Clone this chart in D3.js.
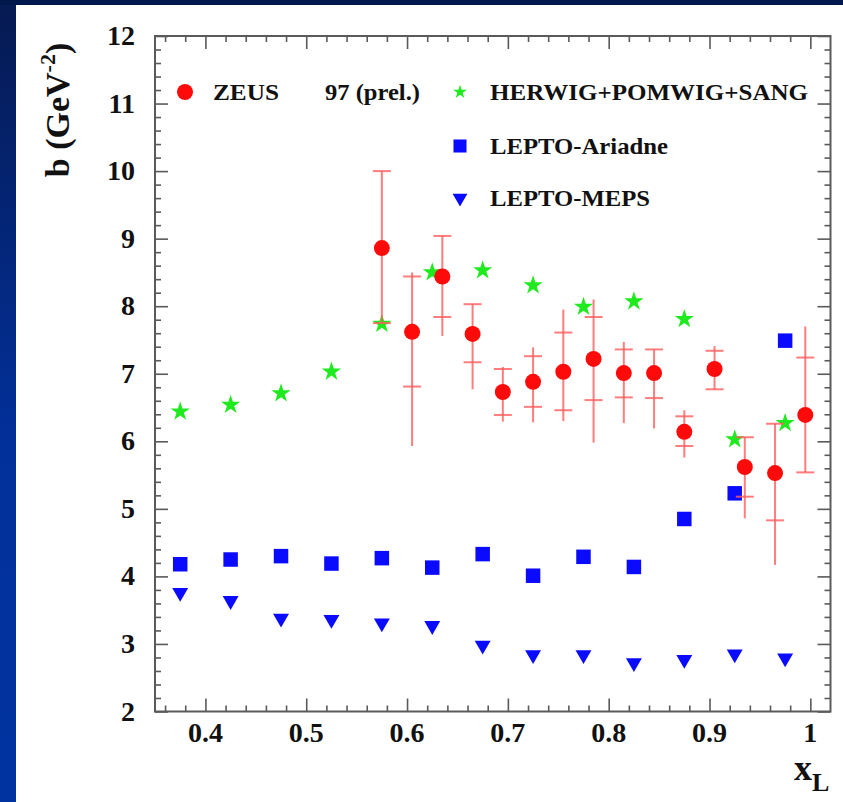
<!DOCTYPE html>
<html>
<head>
<meta charset="utf-8">
<script src="https://cdn.jsdelivr.net/npm/d3@7"></script>
<style>
  html, body { margin: 0; padding: 0; background: #fff; }
  svg { display: block; }
  text { font-family: "Liberation Serif", "DejaVu Serif", serif; font-weight: bold; fill: #111; }
</style>
</head>
<body>
<svg id="chart" width="843" height="802"></svg>
<script>
// x_L bins of the Monte Carlo predictions
const mcX = [0.375, 0.425, 0.475, 0.525, 0.575, 0.625, 0.675, 0.725, 0.775, 0.825, 0.875, 0.925, 0.975];
const herwigB = [6.44, 6.54, 6.71, 7.03, 7.74, 8.50, 8.53, 8.31, 7.99, 8.07, 7.81, 6.03, 6.27];
const ariadneB = [4.18, 4.25, 4.30, 4.19, 4.27, 4.13, 4.33, 4.01, 4.29, 4.14, 4.85, 5.23, 7.49];
const mepsB = [3.76, 3.64, 3.38, 3.36, 3.31, 3.27, 2.98, 2.84, 2.84, 2.72, 2.77, 2.85, 2.79];

// ZEUS measurement: value, statistical band (caps) and full error (line)
const zeusX = [0.575, 0.605, 0.635, 0.665, 0.695, 0.725, 0.755, 0.785, 0.815, 0.845, 0.875, 0.905, 0.935, 0.965, 0.995];
const zeusB = [8.86, 7.62, 8.44, 7.59, 6.73, 6.88, 7.03, 7.22, 7.01, 7.01, 6.14, 7.07, 5.62, 5.53, 6.39];
const zeusStatLo = [7.75, 6.81, 7.84, 7.17, 6.39, 6.51, 6.46, 6.61, 6.65, 6.64, 5.93, 6.77, 5.18, 4.83, 5.54];
const zeusStatHi = [10.00, 8.44, 9.04, 8.03, 7.07, 7.26, 7.61, 7.84, 7.36, 7.36, 6.37, 7.34, 6.06, 6.26, 7.24];
const zeusTotLo = [7.75, 5.93, 7.56, 6.77, 6.29, 6.28, 6.30, 5.98, 6.27, 6.19, 5.76, 6.77, 4.86, 4.17, 5.54];
const zeusTotHi = [10.00, 8.50, 9.04, 8.03, 7.10, 7.39, 7.95, 8.10, 7.47, 7.36, 6.46, 7.41, 6.06, 6.26, 7.70];

const xTickVals = [0.4, 0.5, 0.6, 0.7, 0.8, 0.9, 1.0];
const xTickLabels = ["0.4", "0.5", "0.6", "0.7", "0.8", "0.9", "1"];
const yTickVals = [2, 3, 4, 5, 6, 7, 8, 9, 10, 11, 12];
const yTickLabels = ["2", "3", "4", "5", "6", "7", "8", "9", "10", "11", "12"];

const legendLabels = ["ZEUS", "97 (prel.)", "HERWIG+POMWIG+SANG", "LEPTO-Ariadne", "LEPTO-MEPS"];

const svg = d3.select("#chart");
const W = 843, H = 802;

// slide background: navy frame fading to royal blue, white page
const defs = svg.append("defs");
const grad = defs.append("linearGradient").attr("id", "frame").attr("x1", 0).attr("y1", 0).attr("x2", 0).attr("y2", 1);
grad.append("stop").attr("offset", "0%").attr("stop-color", "#061a52");
grad.append("stop").attr("offset", "55%").attr("stop-color", "#02309a");
grad.append("stop").attr("offset", "100%").attr("stop-color", "#0033a0");
svg.append("rect").attr("width", W).attr("height", H).attr("fill", "url(#frame)");
svg.append("rect").attr("x", 0).attr("y", 0).attr("width", W).attr("height", 5).attr("fill", "#00184b");
svg.append("rect").attr("x", 16).attr("y", 5).attr("width", W - 16).attr("height", H - 5).attr("fill", "#fff");

const pLeft = 155, pRight = 830.5, pTop = 36, pBottom = 711.5;
const x = d3.scaleLinear().domain([0.35, 1.02]).range([pLeft, pRight]);
const y = d3.scaleLinear().domain([2, 12]).range([pBottom, pTop]);

const axisColor = "#5a5a5a";
const g = svg.append("g");

// frame and ticks on all four sides, pointing inward
const xMinor = d3.range(0.36, 1.02, 0.02).map(v => +v.toFixed(2));
const yMinor = d3.range(2, 12.001, 0.2).map(v => +v.toFixed(1));
const isMajorX = v => xTickVals.some(t => Math.abs(t - v) < 1e-6);
const isMajorY = v => yTickVals.some(t => Math.abs(t - v) < 1e-6);

function tickAxis(axisFn, scale, vals, transform) {
  const a = axisFn(scale).tickValues(vals).tickFormat("").tickSizeOuter(0).tickSize(0);
  const sel = g.append("g").attr("transform", transform).call(a);
  sel.select(".domain").remove();
  sel.selectAll(".tick line").attr("stroke", axisColor).attr("stroke-width", 1.6);
  return sel;
}

const xb = tickAxis(d3.axisBottom, x, xMinor, `translate(0,${pBottom})`);
xb.selectAll(".tick line").attr("y2", d => isMajorX(d) ? -13 : -6);
const xt = tickAxis(d3.axisTop, x, xMinor, `translate(0,${pTop})`);
xt.selectAll(".tick line").attr("y2", d => isMajorX(d) ? 13 : 6);
const yl = tickAxis(d3.axisLeft, y, yMinor, `translate(${pLeft},0)`);
yl.selectAll(".tick line").attr("x2", d => isMajorY(d) ? 13 : 6);
const yr = tickAxis(d3.axisRight, y, yMinor, `translate(${pRight},0)`);
yr.selectAll(".tick line").attr("x2", d => isMajorY(d) ? -13 : -6);

g.append("rect").attr("x", pLeft).attr("y", pTop).attr("width", pRight - pLeft).attr("height", pBottom - pTop)
  .attr("fill", "none").attr("stroke", axisColor).attr("stroke-width", 2);

// tick labels
g.selectAll(".xlab").data(xTickVals).join("text").attr("class", "xlab")
  .attr("x", d => x(d)).attr("y", 742).attr("text-anchor", "middle")
  .attr("font-size", 28).text((d, i) => xTickLabels[i]);
g.selectAll(".ylab").data(yTickVals).join("text").attr("class", "ylab")
  .attr("x", 135).attr("y", d => y(d) + 9).attr("text-anchor", "end")
  .attr("font-size", 28).text((d, i) => yTickLabels[i]);

// axis titles
const ytl = svg.append("text").attr("transform", "translate(69,110) rotate(-90)")
  .attr("text-anchor", "middle").attr("font-size", 34);
ytl.append("tspan").text("b (GeV");
ytl.append("tspan").attr("font-size", 22).attr("dy", -14).text("-2");
ytl.append("tspan").attr("dy", 14).text(")");

const xtl = svg.append("text").attr("x", 794).attr("y", 780).attr("font-size", 36);
xtl.append("tspan").text("x");
xtl.append("tspan").attr("font-size", 26).attr("dy", 11).text("L");

// marker generators
const star = d3.symbol().type(d3.symbolStar).size(115);
const square = d3.symbol().type(d3.symbolSquare).size(210);
const tri = d3.symbol().type(d3.symbolTriangle).size(110);

const plot = svg.append("g");

// LEPTO-Ariadne
plot.selectAll(".ari").data(mcX).join("path").attr("class", "ari")
  .attr("d", square).attr("fill", "#0a0aff")
  .attr("transform", (d, i) => `translate(${x(d)},${y(ariadneB[i])})`);
// LEPTO-MEPS (downward triangles)
plot.selectAll(".meps").data(mcX).join("path").attr("class", "meps")
  .attr("d", tri).attr("fill", "#0a0aff")
  .attr("transform", (d, i) => `translate(${x(d)},${y(mepsB[i])}) rotate(180)`);
// HERWIG+POMWIG+SANG
plot.selectAll(".her").data(mcX).join("path").attr("class", "her")
  .attr("d", star).attr("fill", "#1eea1e")
  .attr("transform", (d, i) => `translate(${x(d)},${y(herwigB[i])})`);

// ZEUS data with error bars
const errColor = "#ff5c5c";
const zeus = plot.selectAll(".zeus").data(zeusX).join("g").attr("class", "zeus");
zeus.append("line")
  .attr("x1", d => x(d)).attr("x2", d => x(d))
  .attr("y1", (d, i) => y(zeusTotLo[i])).attr("y2", (d, i) => y(zeusTotHi[i]))
  .attr("stroke", errColor).attr("stroke-width", 2).attr("stroke-opacity", 0.8);
zeus.append("line")
  .attr("x1", d => x(d) - 9).attr("x2", d => x(d) + 9)
  .attr("y1", (d, i) => y(zeusStatLo[i])).attr("y2", (d, i) => y(zeusStatLo[i]))
  .attr("stroke", errColor).attr("stroke-width", 2).attr("stroke-opacity", 0.8);
zeus.append("line")
  .attr("x1", d => x(d) - 9).attr("x2", d => x(d) + 9)
  .attr("y1", (d, i) => y(zeusStatHi[i])).attr("y2", (d, i) => y(zeusStatHi[i]))
  .attr("stroke", errColor).attr("stroke-width", 2).attr("stroke-opacity", 0.8);
zeus.append("circle")
  .attr("cx", d => x(d)).attr("cy", (d, i) => y(zeusB[i])).attr("r", 8)
  .attr("fill", "#ff0a0a");

// legend
const leg = svg.append("g");
function legText(xp, yp, label, len) {
  leg.append("text").attr("x", xp).attr("y", yp).attr("font-size", 24)
    .attr("textLength", len).attr("lengthAdjust", "spacingAndGlyphs").text(label);
}
leg.append("circle").attr("cx", 185).attr("cy", 92).attr("r", 8).attr("fill", "#ff0a0a");
legText(213, 100, legendLabels[0], 66);
legText(325, 100, legendLabels[1], 95);
leg.append("path").attr("d", d3.symbol().type(d3.symbolStar).size(60)())
  .attr("fill", "#1eea1e").attr("transform", "translate(460,92)");
legText(490, 100, legendLabels[2], 318);
leg.append("path").attr("d", d3.symbol().type(d3.symbolSquare).size(170)())
  .attr("fill", "#0a0aff").attr("transform", "translate(460,146)");
legText(490, 154, legendLabels[3], 178);
leg.append("path").attr("d", d3.symbol().type(d3.symbolTriangle).size(95)())
  .attr("fill", "#0a0aff").attr("transform", "translate(460,198) rotate(180)");
legText(490, 206, legendLabels[4], 160);
</script>
</body>
</html>
